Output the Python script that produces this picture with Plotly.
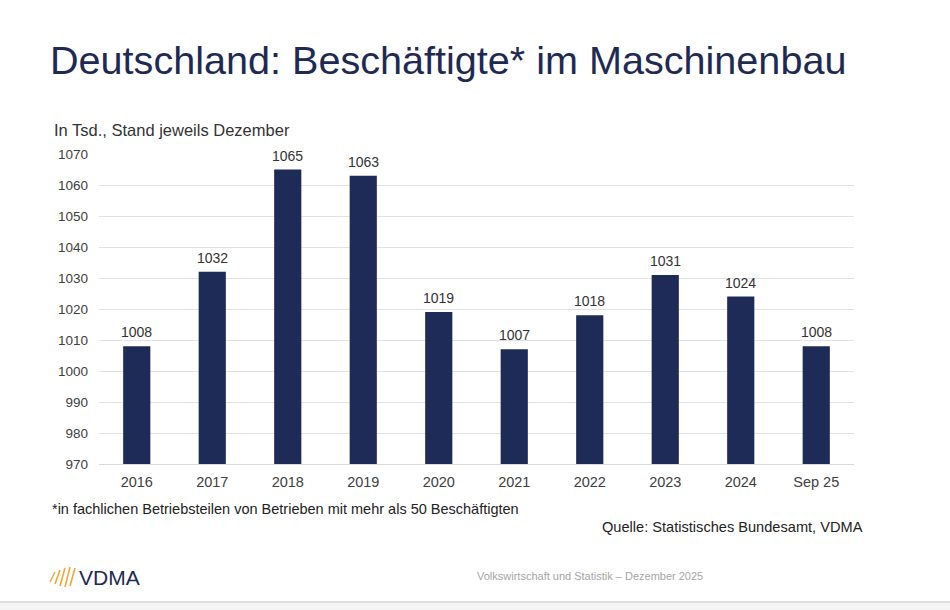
import plotly.graph_objects as go

# Beschäftigte im Maschinenbau, in Tsd. (Stand jeweils Dezember)
years = ["2016", "2017", "2018", "2019", "2020", "2021", "2022", "2023", "2024", "Sep 25"]
employees = [1008, 1032, 1065, 1063, 1019, 1007, 1018, 1031, 1024, 1008]
y_ticks = list(range(970, 1071, 10))

NAVY = "#1f2b57"
FONT = "Liberation Sans, Arial, sans-serif"

W, H = 950, 610
L, R, T, B = 99, 96, 154, 146
PW, PH = W - L - R, H - T - B


def px(x):
    return (x - L) / PW


def py(y):
    return (H - B - y) / PH


fig = go.Figure()
fig.add_trace(go.Bar(
    x=years, y=employees,
    marker=dict(color=NAVY, line=dict(width=0)),
    hoverinfo="x+y",
))

# value labels above the bars (x given as category index, "2016" would be read as a number)
annotations = [
    dict(x=i, y=v, text=f"{v:.0f}", xref="x", yref="y", yanchor="bottom",
         yshift=4, showarrow=False, font=dict(size=14, color="#333333", family=FONT))
    for i, v in enumerate(employees)
]

notes = [
    dict(text="In Tsd., Stand jeweils Dezember", x=52, y=130, size=16.5,
         color="#333333", anchor="left"),
    dict(text="*in fachlichen Betriebsteilen von Betrieben mit mehr als 50 Beschäftigten",
         x=50, y=509, size=14.5, color="#222222", anchor="left"),
    dict(text="Quelle: Statistisches Bundesamt, VDMA", x=865, y=527, size=14.6,
         color="#222222", anchor="right"),
    dict(text="Volkswirtschaft und Statistik – Dezember 2025", x=475, y=576, size=11,
         color="#a6a6a6", anchor="left"),
    dict(text="VDMA", x=77, y=577, size=21, color="#1e2a52", anchor="left"),
]
annotations += [
    dict(text=n["text"], x=px(n["x"]), y=py(n["y"]), xref="paper", yref="paper",
         xanchor=n["anchor"], yanchor="middle", showarrow=False,
         font=dict(size=n["size"], color=n["color"], family=FONT))
    for n in notes
]

# logo strokes + footer line
shapes = []
for x0, h in [(50, 10), (55, 14), (60, 18), (65, 20), (70, 18)]:
    shapes.append(dict(type="line", xref="paper", yref="paper",
                       x0=px(x0), y0=py(577 + h / 2), x1=px(x0 + 5), y1=py(577 - h / 2),
                       line=dict(color="#f0a83c", width=1.6)))
shapes.append(dict(type="rect", xref="paper", yref="paper", x0=px(0), x1=px(W),
                   y0=py(610), y1=py(603), fillcolor="#f4f4f4", line=dict(width=0),
                   layer="below"))
shapes.append(dict(type="line", xref="paper", yref="paper", x0=px(0), x1=px(W),
                   y0=py(602), y1=py(602), line=dict(color="#d4d4d4", width=1.5)))

fig.update_layout(
    width=W, height=H,
    margin=dict(l=L, r=R, t=T, b=B),
    paper_bgcolor="white", plot_bgcolor="white",
    title=dict(text="Deutschland: Beschäftigte* im Maschinenbau",
               x=50 / W, xanchor="left", y=1 - 60 / H, yanchor="middle",
               font=dict(size=39.6, color="#1e2a52", family=FONT)),
    bargap=0.64,
    showlegend=False,
    xaxis=dict(type="category", showline=True, linecolor="#d9d9d9", linewidth=1,
               ticks="", ticklabelstandoff=5,
               tickfont=dict(size=14.5, color="#404040", family=FONT)),
    yaxis=dict(range=[970, 1070], tickvals=y_ticks, showgrid=True, gridcolor="#e3e3e3",
               gridwidth=1, zeroline=False, showline=False, ticks="",
               tickfont=dict(size=13.5, color="#404040", family=FONT), ticklabelstandoff=10),
    annotations=annotations,
    shapes=shapes,
)

fig.write_html("out.html", config={"displayModeBar": False},
               post_script="document.body.style.margin='0';")
